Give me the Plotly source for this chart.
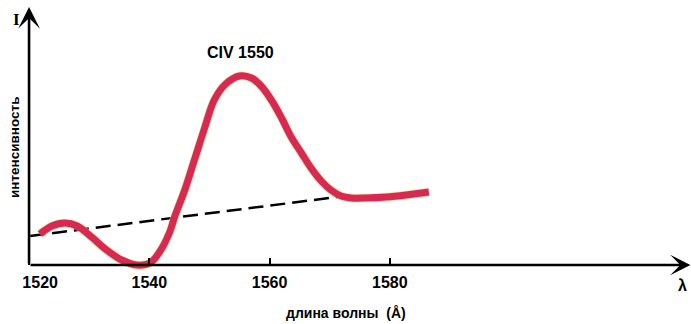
import plotly.graph_objects as go

# --- data ---
wavelength = [1521.8, 1523.8, 1526.0, 1528.0, 1530.4, 1532.9, 1535.4, 1537.9, 1540.1,
              1541.7, 1543.4, 1544.2, 1545.9, 1547.5, 1549.2, 1550.8, 1552.7, 1555.0,
              1557.0, 1558.6, 1560.3, 1562.0, 1563.6, 1565.3, 1566.9, 1568.6, 1570.2,
              1571.9, 1573.6, 1576.1, 1579.4, 1582.7, 1586.5]
intensity = [3.1, 3.9, 4.2, 3.9, 2.8, 1.5, 0.5, 0.0, 0.2,
             1.3, 3.3, 4.8, 7.5, 10.5, 13.7, 16.5, 18.1, 18.9,
             18.7, 17.9, 16.5, 14.7, 12.8, 11.2, 9.7, 8.4, 7.5,
             6.9, 6.7, 6.7, 6.8, 7.0, 7.3]
continuum_x = [1520.2, 1571.3]
continuum_y = [2.9, 6.8]
tick_vals = [1520, 1540, 1560, 1580]
tick_text = ["<b>" + "\u00a0" * 5 + "1520</b>", "<b>1540</b>", "<b>1560</b>", "<b>1580</b>"]
line_label = "CIV 1550"

X0, X1 = 1515.5, 1630.1
Y0, Y1 = -5.9, 26.5

fig = go.Figure()
fig.add_trace(go.Scatter(x=continuum_x, y=continuum_y, mode="lines",
                         line=dict(color="black", width=2.5, dash="15px,7px"),
                         hoverinfo="skip"))
fig.add_trace(go.Scatter(x=wavelength, y=intensity, mode="lines",
                         line=dict(color="#f2d060", width=8.5, shape="spline", smoothing=1.0),
                         opacity=0.6, hoverinfo="skip"))
fig.add_trace(go.Scatter(x=wavelength, y=intensity, mode="lines",
                         line=dict(color="#d62a52", width=7, shape="spline", smoothing=1.0),
                         hoverinfo="skip"))

# axes with arrows
fig.add_annotation(x=1630, y=0, ax=1520, ay=0, xref="x", yref="y", axref="x", ayref="y",
                   showarrow=True, arrowhead=3, arrowsize=1.3, arrowwidth=2.6,
                   arrowcolor="black", text="")
fig.add_annotation(x=1520, y=25.8, ax=1520, ay=0, xref="x", yref="y", axref="x", ayref="y",
                   showarrow=True, arrowhead=3, arrowsize=1.4, arrowwidth=2.6,
                   arrowcolor="black", text="")

bold = dict(family="Liberation Sans, Arial, sans-serif", color="black")
common = dict(showarrow=False, xanchor="center", yanchor="middle")
fig.add_annotation(x=1555.2, y=21.25, xref="x", yref="y", text="<b>" + line_label + "</b>",
                   font=dict(size=16, **bold), **common)
fig.add_annotation(x=345 / 691, y=1 - 313 / 324, xref="paper", yref="paper",
                   text="<b>длина волны\u00a0\u00a0(Å)</b>", font=dict(size=14, **bold), **common)
fig.add_annotation(x=12 / 691, y=1 - 147 / 324, xref="paper", yref="paper",
                   text="<b>интенсивность</b>", textangle=-90,
                   font=dict(size=13.5, **bold), **common)
fig.add_annotation(x=15 / 691, y=1 - 19 / 324, xref="paper", yref="paper", text="<b>I</b>",
                   font=dict(size=17, family="Liberation Serif, serif", color="black"), **common)
fig.add_annotation(x=682 / 691, y=1 - 285 / 324, xref="paper", yref="paper", text="<b>λ</b>",
                   font=dict(size=16, **bold), **common)

fig.update_xaxes(range=[X0, X1], showgrid=False, zeroline=False, showline=False,
                 anchor="free", position=(0 - Y0) / (Y1 - Y0),
                 tickmode="array", tickvals=tick_vals, ticktext=tick_text,
                 ticks="inside", ticklen=7, tickwidth=2, tickcolor="black",
                 tickfont=dict(size=16, **bold), ticklabelstandoff=6,
                 ticklabeloverflow="allow")
fig.update_yaxes(range=[Y0, Y1], visible=False, showgrid=False, zeroline=False)
fig.update_layout(width=691, height=324, margin=dict(l=0, r=0, t=0, b=0),
                  paper_bgcolor="white", plot_bgcolor="white", showlegend=False)

fig.write_html("out.html")
